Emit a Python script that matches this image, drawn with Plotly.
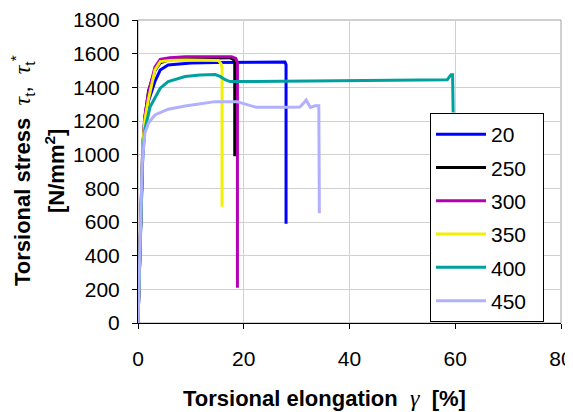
import plotly.graph_objects as go

names = ["20", "250", "300", "350", "400", "450"]
colors = ["#0000FF", "#000000", "#B400B4", "#F0F000", "#00A0A0", "#B0B0FF"]

x_20 = [0, 0.3, 0.6, 0.9, 1.3, 2, 3.2, 4.2, 5.7, 8, 10, 14.6, 20, 27.8, 28.0, 28.0]
y_20 = [0, 300, 700, 1000, 1180, 1320, 1435, 1503, 1533, 1540, 1544, 1547, 1550, 1550, 1535, 590]

x_250 = [0, 0.3, 0.6, 0.9, 1.3, 2, 3.2, 4.2, 6, 9, 13, 17.3, 18.0, 18.3, 18.3]
y_250 = [0, 300, 700, 1050, 1220, 1380, 1500, 1545, 1565, 1572, 1576, 1576, 1568, 1545, 990]

x_300 = [0, 0.3, 0.6, 0.9, 1.3, 2, 3.2, 4.2, 6, 9, 13, 17.7, 18.5, 18.8, 18.8]
y_300 = [0, 300, 700, 1050, 1230, 1370, 1520, 1566, 1576, 1582, 1584, 1582, 1572, 1545, 210]

x_350 = [0, 0.3, 0.6, 0.9, 1.3, 1.95, 3.2, 4.2, 6, 9, 13, 15.2, 15.7, 15.9, 15.9]
y_350 = [0, 300, 700, 1050, 1206, 1325, 1503, 1553, 1560, 1563, 1563, 1560, 1540, 1520, 690]

x_400 = [0, 0.3, 0.6, 0.9, 1.3, 2.3, 4.2, 5.7, 8.9, 11.7, 14.6, 15.5, 16.5, 17.4, 20, 30, 40, 50, 58.5, 59.2, 59.5, 59.6]
y_400 = [0, 300, 700, 1000, 1150, 1285, 1395, 1434, 1464, 1473, 1476, 1465, 1445, 1434, 1434, 1436, 1438, 1440, 1445, 1475, 1475, 1250]

x_450 = [0, 0.2, 0.5, 0.8, 1.3, 2, 3.2, 5.7, 8.9, 12, 14.6, 18.7, 20.5, 22.4, 28, 30.6, 31.3, 31.8, 32.6, 33.5, 34.2, 34.3]
y_450 = [0, 250, 600, 950, 1129, 1190, 1236, 1270, 1289, 1305, 1315, 1315, 1298, 1281, 1281, 1283, 1305, 1325, 1281, 1290, 1290, 652]

xs = [x_20, x_250, x_300, x_350, x_400, x_450]
ys = [y_20, y_250, y_300, y_350, y_400, y_450]

x_ticks = [0, 20, 40, 60, 80]
y_ticks = [0, 200, 400, 600, 800, 1000, 1200, 1400, 1600, 1800]

fig = go.Figure()
for i in range(6):
    fig.add_trace(go.Scatter(x=xs[i], y=ys[i], mode="lines", name=names[i] + "\u00a0\u00a0",
                             legendgroup="g" + names[i],
                             line=dict(color=colors[i], width=3)))

# page body has an 8px margin; compensate so the plot area lands at
# x 138..561 and y 20..323 in the window
OFF = 8
L, R, T, B = 138 - OFF, 573 - 561 + OFF, 20 - OFF, 412 - 323 + OFF

FONT = "Liberation Sans, Arial, sans-serif"
SERIF = "style='font-family:Liberation Serif, Times New Roman, serif;font-size:24px'"
tau = f"<span {SERIF}><i>τ</i></span>"
gam = f"<span {SERIF}><i>γ</i></span>"

fig.update_layout(
    width=573, height=412,
    margin=dict(l=L, r=R, t=T, b=B, autoexpand=False),
    paper_bgcolor="white", plot_bgcolor="white",
    font=dict(family=FONT, size=21, color="black"),
    showlegend=True,
    legend=dict(x=(430 - 138) / 423, y=(323 - 113) / 303, xanchor="left", yanchor="top",
                bgcolor="white", bordercolor="black", borderwidth=1,
                font=dict(size=21), itemwidth=50, tracegroupgap=3),
    xaxis=dict(range=[0, 80], tickvals=x_ticks, showgrid=True, gridcolor="#D0D0D0",
               gridwidth=1, showline=True, linecolor="black", linewidth=1,
               ticks="outside", ticklen=5, tickcolor="black", zeroline=False,
               ticklabelstandoff=12, automargin=False),
    yaxis=dict(range=[0, 1800], tickvals=y_ticks, showgrid=True, gridcolor="#D0D0D0",
               gridwidth=1, showline=True, linecolor="black", linewidth=1,
               ticks="outside", ticklen=5, tickcolor="black", zeroline=False,
               ticklabelstandoff=8, automargin=False),
    shapes=[dict(type="rect", xref="paper", yref="paper", x0=0, x1=1, y0=0, y1=1,
                 line=dict(color="#A0A0A0", width=1), layer="below")],
    annotations=[
        dict(text=f"<b>Torsional elongation</b>  {gam}  <b>[%]</b>", xref="paper", yref="paper",
             x=(324 - 138) / 423, y=-(398 - 323) / 303, xanchor="center", yanchor="middle",
             showarrow=False, font=dict(size=22)),
        dict(text=f"<b>Torsional stress</b>  {tau}<sub>t</sub>,  {tau}<sub>t</sub><sup>*</sup>",
             xref="paper", yref="paper", x=-(138 - 22) / 423, y=(323 - 171) / 303,
             xanchor="center", yanchor="middle",
             textangle=-90, showarrow=False, font=dict(size=22)),
        dict(text="<b>[N/mm<sup>2</sup>]</b>",
             xref="paper", yref="paper", x=-(138 - 55) / 423, y=(323 - 171) / 303,
             xanchor="center", yanchor="middle",
             textangle=-90, showarrow=False, font=dict(size=22)),
    ],
)
fig.write_html("out.html")
